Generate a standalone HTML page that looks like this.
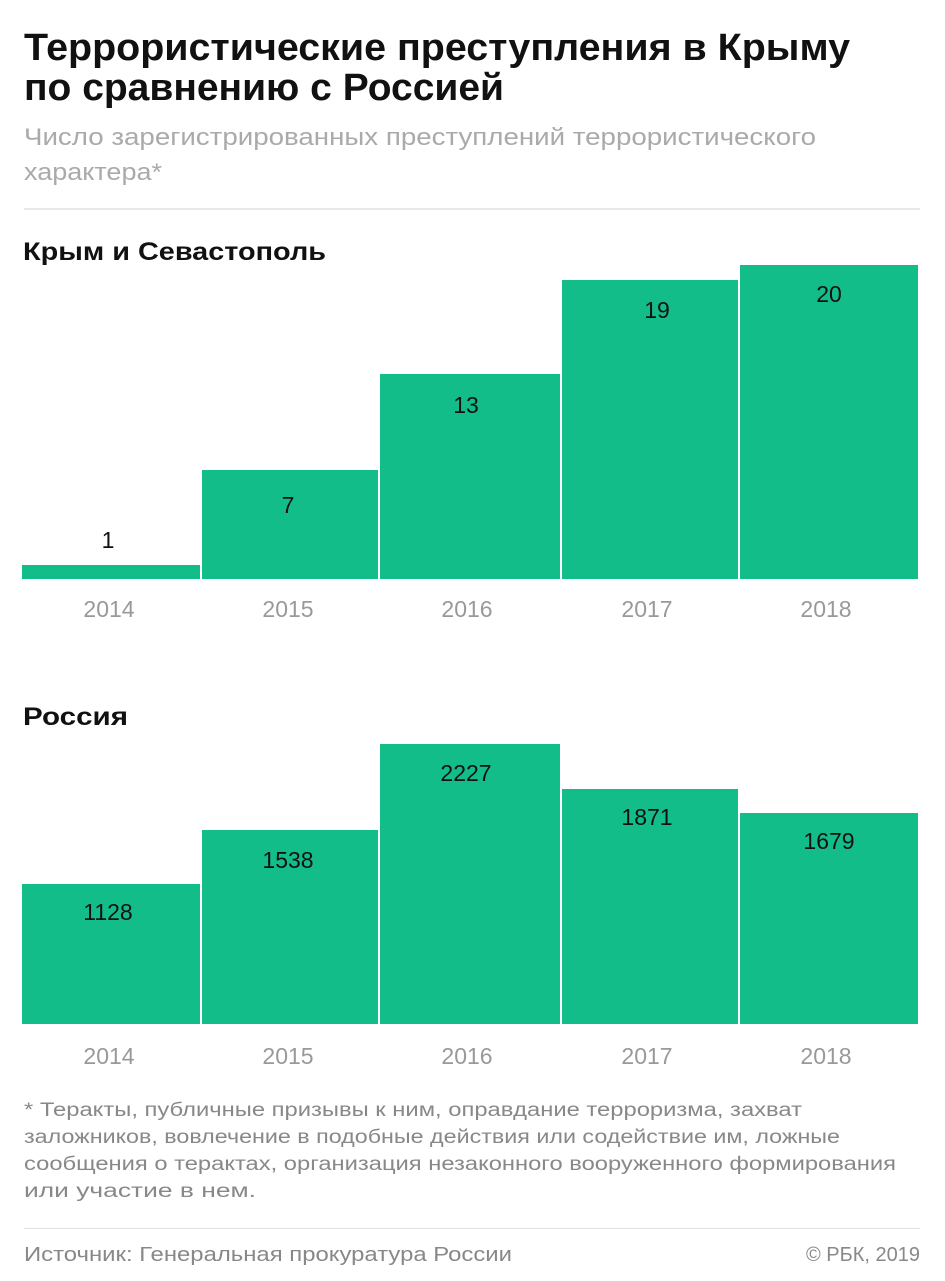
<!DOCTYPE html>
<html><head><meta charset="utf-8"><style>
html,body{margin:0;padding:0;background:#fff;}
svg{display:block;font-family:"Liberation Sans",sans-serif;}
</style></head><body>
<svg width="945" height="1281" viewBox="0 0 945 1281" xmlns="http://www.w3.org/2000/svg">
<rect width="945" height="1281" fill="#fff"/>
<g font-weight="bold" fill="#111" font-size="38">
<text x="24" y="60" textLength="826" lengthAdjust="spacingAndGlyphs">Террористические преступления в Крыму</text>
<text x="24" y="100" textLength="480" lengthAdjust="spacingAndGlyphs">по сравнению с Россией</text>
</g>
<g fill="#aaa" font-size="24">
<text x="24" y="145" textLength="792" lengthAdjust="spacingAndGlyphs">Число зарегистрированных преступлений террористического</text>
<text x="24" y="180" textLength="138" lengthAdjust="spacingAndGlyphs">характера*</text>
</g>
<rect x="24" y="208" width="896" height="2" fill="#e8e8e8"/>
<g font-weight="bold" fill="#111" font-size="25">
<text x="23" y="260" textLength="303" lengthAdjust="spacingAndGlyphs">Крым и Севастополь</text>
<text x="23" y="725" textLength="105" lengthAdjust="spacingAndGlyphs">Россия</text>
</g>
<g fill="#13bd89">
<rect x="22" y="565" width="178" height="14"/>
<rect x="202" y="470" width="176" height="109"/>
<rect x="380" y="374" width="180" height="205"/>
<rect x="562" y="280" width="176" height="299"/>
<rect x="740" y="265" width="178" height="314"/>
<rect x="22" y="884" width="178" height="140"/>
<rect x="202" y="830" width="176" height="194"/>
<rect x="380" y="744" width="180" height="280"/>
<rect x="562" y="789" width="176" height="235"/>
<rect x="740" y="813" width="178" height="211"/>
</g>
<g fill="#111" font-size="23" text-anchor="middle">
<text x="108" y="548">1</text>
<text x="288" y="513">7</text>
<text x="466" y="413">13</text>
<text x="657" y="318">19</text>
<text x="829" y="302">20</text>
<text x="108" y="920">1128</text>
<text x="288" y="868">1538</text>
<text x="466" y="781">2227</text>
<text x="647" y="825">1871</text>
<text x="829" y="849">1679</text>
</g>
<g fill="#999" font-size="23" text-anchor="middle">
<text x="109" y="617">2014</text>
<text x="288" y="617">2015</text>
<text x="467" y="617">2016</text>
<text x="647" y="617">2017</text>
<text x="826" y="617">2018</text>
<text x="109" y="1064">2014</text>
<text x="288" y="1064">2015</text>
<text x="467" y="1064">2016</text>
<text x="647" y="1064">2017</text>
<text x="826" y="1064">2018</text>
</g>
<g fill="#888" font-size="19">
<text x="24" y="1116" textLength="778" lengthAdjust="spacingAndGlyphs">* Теракты, публичные призывы к ним, оправдание терроризма, захват</text>
<text x="24" y="1143" textLength="816" lengthAdjust="spacingAndGlyphs">заложников, вовлечение в подобные действия или содействие им, ложные</text>
<text x="24" y="1170" textLength="872" lengthAdjust="spacingAndGlyphs">сообщения о терактах, организация незаконного вооруженного формирования</text>
<text x="24" y="1197" textLength="232" lengthAdjust="spacingAndGlyphs">или участие в нем.</text>
</g>
<rect x="24" y="1228" width="896" height="1" fill="#e0e0e0"/>
<g fill="#888" font-size="20">
<text x="24" y="1261" textLength="488" lengthAdjust="spacingAndGlyphs">Источник: Генеральная прокуратура России</text>
<text x="920" y="1261" text-anchor="end">© РБК, 2019</text>
</g>
</svg>
</body></html>
